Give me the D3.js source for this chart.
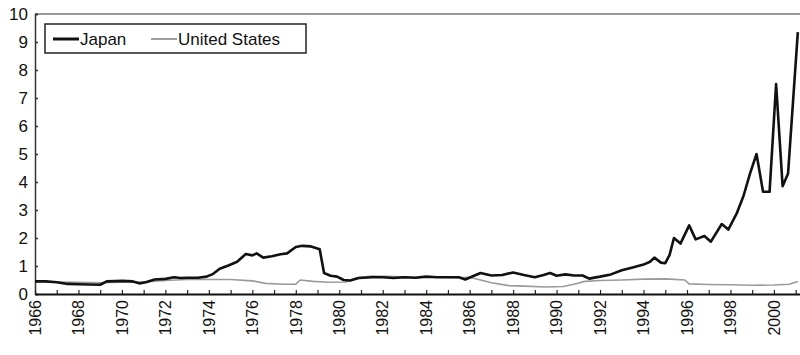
<!DOCTYPE html>
<html><head><meta charset="utf-8">
<script src="https://cdn.jsdelivr.net/npm/d3@7"></script>
<style>body{margin:0;background:#fff}svg{display:block}</style>
</head><body><svg id="c" width="800" height="355"></svg>
<script>
const japanYears = [1966.0,1966.5,1967.0,1967.5,1968.0,1968.5,1969.0,1969.3,1969.7,1970.0,1970.5,1970.8,1971.1,1971.5,1972.0,1972.4,1972.7,1973.0,1973.5,1973.9,1974.2,1974.5,1974.9,1975.3,1975.7,1976.0,1976.2,1976.5,1976.9,1977.3,1977.6,1978.0,1978.3,1978.7,1979.1,1979.3,1979.6,1979.9,1980.2,1980.5,1980.9,1981.5,1982.0,1982.5,1983.0,1983.5,1984.0,1984.5,1985.0,1985.5,1985.8,1986.2,1986.5,1987.0,1987.5,1988.0,1988.5,1989.0,1989.4,1989.7,1990.0,1990.4,1990.8,1991.2,1991.5,1992.0,1992.5,1993.0,1993.5,1994.0,1994.3,1994.5,1994.8,1995.0,1995.2,1995.4,1995.7,1996.1,1996.4,1996.8,1997.1,1997.6,1997.9,1998.3,1998.6,1998.9,1999.2,1999.5,1999.8,2000.1,2000.4,2000.65,2001.1];
const japanValues = [0.45,0.45,0.42,0.36,0.35,0.34,0.33,0.45,0.46,0.47,0.45,0.38,0.42,0.52,0.54,0.6,0.57,0.58,0.58,0.62,0.72,0.9,1.02,1.15,1.43,1.38,1.45,1.3,1.35,1.42,1.45,1.68,1.72,1.7,1.6,0.75,0.65,0.62,0.5,0.48,0.57,0.6,0.6,0.57,0.6,0.58,0.62,0.6,0.6,0.6,0.52,0.65,0.75,0.66,0.68,0.77,0.68,0.6,0.68,0.75,0.65,0.7,0.66,0.66,0.55,0.62,0.7,0.85,0.95,1.05,1.15,1.3,1.12,1.1,1.4,2.0,1.8,2.45,1.95,2.07,1.87,2.5,2.3,2.9,3.5,4.3,5.0,3.65,3.65,7.5,3.85,4.3,9.35];
const usYears = [1966.0,1967.0,1968.0,1969.0,1970.0,1971.0,1972.0,1973.0,1974.0,1975.0,1976.0,1976.6,1977.5,1978.0,1978.2,1978.8,1979.5,1980.3,1980.8,1981.5,1982.5,1983.5,1984.5,1985.5,1986.0,1986.5,1987.0,1987.8,1988.5,1989.5,1990.3,1990.8,1991.3,1992.0,1993.0,1994.0,1995.0,1995.9,1996.1,1997.0,1998.0,1999.0,2000.0,2000.7,2001.1];
const usValues = [0.45,0.43,0.42,0.4,0.42,0.43,0.48,0.52,0.52,0.52,0.47,0.38,0.35,0.35,0.5,0.45,0.42,0.43,0.58,0.64,0.62,0.6,0.6,0.58,0.6,0.5,0.4,0.3,0.28,0.25,0.27,0.35,0.45,0.48,0.5,0.53,0.54,0.5,0.36,0.34,0.33,0.31,0.32,0.35,0.45];
const yTicks = [0,1,2,3,4,5,6,7,8,9,10];
const xLabelYears = [1966,1968,1970,1972,1974,1976,1978,1980,1982,1984,1986,1988,1990,1992,1994,1996,1998,2000];
const xMinorYears = d3.range(1966, 2002);
const seriesNames = ["Japan", "United States"];

const svg = d3.select("#c");
const x = d3.scaleLinear().domain([1966, 2001.2]).range([35, 800]);
const y = d3.scaleLinear().domain([0, 10]).range([294, 14]);
const font = "Liberation Sans, Arial, sans-serif";

svg.append("line").attr("x1", 35).attr("x2", 800).attr("y1", y(10)).attr("y2", y(10))
  .attr("stroke", "#999").attr("stroke-width", 2);

const ya = svg.append("g").attr("transform", "translate(35,0)")
  .call(d3.axisRight(y).tickValues(yTicks).tickSize(3).tickFormat(""));
ya.select(".domain").attr("stroke", "#333").attr("stroke-width", 1.5);
ya.selectAll(".tick line").attr("stroke", "#333").attr("stroke-width", 1.5);
svg.append("g").selectAll("text").data(yTicks).join("text")
  .attr("x", 28).attr("y", d => y(d)).attr("dy", "0.36em")
  .attr("text-anchor", "end").attr("font-family", font).attr("font-size", 17)
  .attr("fill", "#111").text(d => d);

const xa = svg.append("g").attr("transform", "translate(0,294)")
  .call(d3.axisTop(x).tickValues(xMinorYears).tickSize(4).tickFormat("").tickSizeOuter(0));
xa.select(".domain").attr("stroke", "#111").attr("stroke-width", 2);
xa.selectAll(".tick line").attr("stroke", "#222").attr("stroke-width", 1.2);
svg.append("g").selectAll("text").data(xLabelYears).join("text")
  .attr("transform", d => "translate(" + x(d) + ",300) rotate(-90)")
  .attr("x", 0).attr("y", 0).attr("dy", "0.36em").attr("text-anchor", "end")
  .attr("font-family", font).attr("font-size", 16).attr("fill", "#111").text(d => d);

const line = d3.line().x(d => x(d[0])).y(d => y(d[1]));
const usData = usYears.map((t, i) => [t, usValues[i]]);
const jpData = japanYears.map((t, i) => [t, japanValues[i]]);
svg.append("path").datum(usData).attr("d", line).attr("fill", "none")
  .attr("stroke", "#9a9a9a").attr("stroke-width", 1.6);
svg.append("path").datum(jpData).attr("d", line).attr("fill", "none")
  .attr("stroke", "#111").attr("stroke-width", 2.6).attr("stroke-linejoin", "round");

const lg = svg.append("g");
lg.append("rect").attr("x", 45).attr("y", 24).attr("width", 261).attr("height", 29)
  .attr("fill", "#fff").attr("stroke", "#222").attr("stroke-width", 1.5);
const items = [{name: seriesNames[0], x: 53, color: "#111", w: 3}, {name: seriesNames[1], x: 151, color: "#888", w: 1.6}];
items.forEach(it => {
  lg.append("line").attr("x1", it.x).attr("x2", it.x + 26).attr("y1", 39).attr("y2", 39)
    .attr("stroke", it.color).attr("stroke-width", it.w);
  lg.append("text").attr("x", it.x + 27).attr("y", 39).attr("dy", "0.36em")
    .attr("font-family", font).attr("font-size", 17).attr("fill", "#111").text(it.name);
});
</script></body></html>
